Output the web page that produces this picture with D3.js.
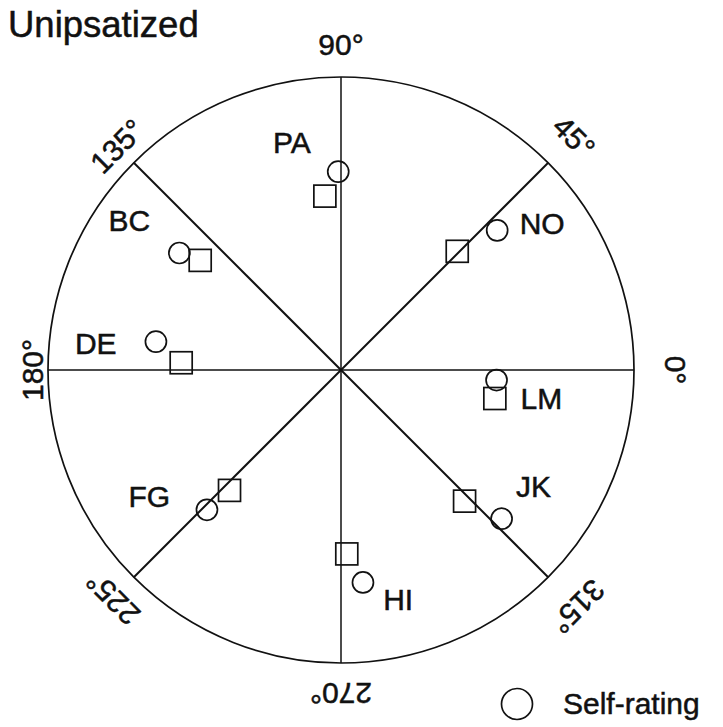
<!DOCTYPE html>
<html lang="en">
<head>
<meta charset="utf-8">
<script src="https://d3js.org/d3.v7.min.js"></script>
<style>
    body { margin: 0px; background: #fff; }
    text { font-family: "Liberation Sans", Arial, sans-serif; fill: #111; stroke: #111; stroke-width: 0.5px; }
</style>
</head>
<body>
<svg id="chart"></svg>
<script>
// Circumplex data: angle in degrees, distance as share of the outer radius
var people = ["PA", "NO", "BC", "DE", "FG", "HI", "JK", "LM"];
var selfAngle = [90.8, 41.8, 144.1, 171.3, 226.2, 275.9, 317.2, 356.3];
var selfDist = [0.677, 0.715, 0.681, 0.639, 0.661, 0.729, 0.747, 0.532];
var otherAngle = [95.3, 45.6, 142.1, 177.4, 227.2, 271.8, 313.3, 349.5];
var otherDist = [0.596, 0.567, 0.609, 0.546, 0.560, 0.628, 0.615, 0.534];
var axisAngles = [0, 45, 90, 135, 180, 225, 270, 315];
var axisLabels = ["0°", "45°", "90°", "135°", "180°", "225°", "270°", "315°"];
var title = "Unipsatized";
var legendLabel = "Self-rating";

// Variables
var width = 723;
var height = 727;
var cx = 341, cy = 370;
var R = 293;

var svg = d3.select("#chart")
    .attr("width", width)
    .attr("height", height);

var r = d3.scaleLinear().domain([0, 1]).range([0, R]);

// degrees counter-clockwise from east -> screen point
function pt(deg, d) {
    var p = d3.pointRadial((90 - deg) * Math.PI / 180, r(d));
    return [cx + p[0], cy + p[1]];
}

var g = svg.append("g");

// outer circle
g.append("circle")
    .attr("cx", cx)
    .attr("cy", cy)
    .attr("r", r(1))
    .attr("fill", "none")
    .attr("stroke", "#111")
    .attr("stroke-width", 1.7);

// spokes through the centre
g.selectAll("line.spoke")
    .data(axisAngles)
    .enter().append("line")
    .attr("class", "spoke")
    .attr("x1", cx)
    .attr("y1", cy)
    .attr("x2", function (a) { return pt(a, 1)[0]; })
    .attr("y2", function (a) { return pt(a, 1)[1]; })
    .attr("stroke", "#111")
    .attr("stroke-width", function (a) { return a % 90 ? 2 : 1.5; });

// degree labels, baseline tangent to the circle (gap varies a bit like the scan)
var degGap = [31, 26, 22, 13, 5, 19, 20, 31];
g.selectAll("text.deg")
    .data(axisAngles)
    .enter().append("text")
    .attr("class", "deg")
    .attr("text-anchor", "middle")
    .attr("font-size", 30)
    .attr("transform", function (a, i) {
        var p = d3.pointRadial((90 - a) * Math.PI / 180, R + degGap[i]);
        return "translate(" + (cx + p[0]) + "," + (cy + p[1]) + ") rotate(" + (90 - a) + ")";
    })
    .text(function (a, i) { return axisLabels[i]; });

// other ratings (squares)
var sq = 22;
g.selectAll("rect.other")
    .data(people)
    .enter().append("rect")
    .attr("class", "other")
    .attr("x", function (d, i) { return pt(otherAngle[i], otherDist[i])[0] - sq / 2; })
    .attr("y", function (d, i) { return pt(otherAngle[i], otherDist[i])[1] - sq / 2; })
    .attr("width", sq)
    .attr("height", sq)
    .attr("fill", "none")
    .attr("stroke", "#111")
    .attr("stroke-width", 1.7);

// self ratings (circles)
g.selectAll("circle.self")
    .data(people)
    .enter().append("circle")
    .attr("class", "self")
    .attr("cx", function (d, i) { return pt(selfAngle[i], selfDist[i])[0]; })
    .attr("cy", function (d, i) { return pt(selfAngle[i], selfDist[i])[1]; })
    .attr("r", 10.5)
    .attr("fill", "none")
    .attr("stroke", "#111")
    .attr("stroke-width", 1.7);

// name labels placed next to each pair
var labelAngle = [102.2, 36.2, 144.7, 173.7, 213.3, 284, 328.8, 351.9];
var labelDist = [0.795, 0.851, 0.885, 0.842, 0.783, 0.806, 0.768, 0.691];
g.selectAll("text.name")
    .data(people)
    .enter().append("text")
    .attr("class", "name")
    .attr("text-anchor", "middle")
    .attr("dy", "0.36em")
    .attr("font-size", 30)
    .attr("x", function (d, i) { return pt(labelAngle[i], labelDist[i])[0]; })
    .attr("y", function (d, i) { return pt(labelAngle[i], labelDist[i])[1]; })
    .text(function (d) { return d; });

// title
svg.append("text")
    .attr("x", 8)
    .attr("y", 37)
    .attr("font-size", 36.5)
    .text(title);

// legend
var legend = svg.append("g").attr("transform", "translate(517,704)");
legend.append("circle")
    .attr("r", 15.5)
    .attr("fill", "none")
    .attr("stroke", "#111")
    .attr("stroke-width", 1.7);
legend.append("text")
    .attr("x", 46)
    .attr("y", 10)
    .attr("font-size", 30)
    .text(legendLabel);
</script>
</body>
</html>
